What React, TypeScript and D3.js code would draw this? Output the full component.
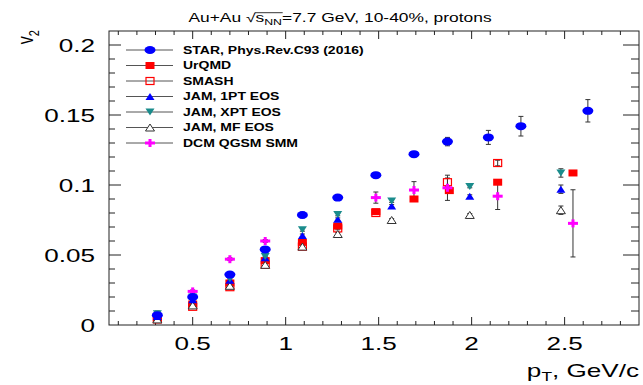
import React, { useEffect, useRef } from "react";
import * as d3 from "d3";

// pT (GeV/c) and v2
const starPt = [0.31, 0.5, 0.7, 0.89, 1.09, 1.28, 1.485, 1.69, 1.87, 2.09, 2.265, 2.625];
const starV2 = [0.007, 0.02, 0.036, 0.054, 0.0786, 0.091, 0.107, 0.122, 0.131, 0.134, 0.142, 0.153];
const starErr = [0.003, 0.002, 0.002, 0.002, 0.002, 0.002, 0.002, 0.002, 0.003, 0.005, 0.007, 0.008];

const urqmdPt = [0.31, 0.5, 0.7, 0.89, 1.09, 1.28, 1.485, 1.69, 1.88, 2.14, 2.545];
const urqmdV2 = [0.005, 0.015, 0.03, 0.046, 0.059, 0.0707, 0.081, 0.09, 0.096, 0.102, 0.1086];
const urqmdErr = [0.001, 0.001, 0.001, 0.001, 0.001, 0.001, 0.001, 0.001, 0.001, 0.001, 0.001];

const smashPt = [0.31, 0.5, 0.7, 0.89, 1.09, 1.28, 1.485, 1.87, 2.14];
const smashV2 = [0.004, 0.013, 0.027, 0.043, 0.056, 0.069, 0.08, 0.102, 0.1157];
const smashErr = [0.001, 0.001, 0.001, 0.001, 0.001, 0.001, 0.001, 0.003, 0.002];

const jamPt = [0.31, 0.5, 0.7, 0.89, 1.09, 1.28, 1.57, 1.99, 2.48];
const jam1ptV2 = [0.006, 0.018, 0.032, 0.048, 0.064, 0.0755, 0.085, 0.092, 0.097];
const jamXptV2 = [0.008, 0.02, 0.033, 0.049, 0.068, 0.079, 0.0886, 0.099, 0.1086];
const jamMfV2 = [0.004, 0.014, 0.028, 0.043, 0.056, 0.065, 0.075, 0.0786, 0.082];
const jamErr = [0.001, 0.001, 0.001, 0.001, 0.001, 0.001, 0.001, 0.001, 0.003];

const dcmPt = [0.5, 0.7, 0.89, 1.485, 1.69, 1.87, 2.14, 2.545];
const dcmV2 = [0.024, 0.047, 0.06, 0.091, 0.0964, 0.098, 0.092, 0.0726];
const dcmErr = [0.001, 0.001, 0.001, 0.004, 0.006, 0.009, 0.0095, 0.024];

const legendLabels = [
  "STAR, Phys.Rev.C93 (2016)",
  "UrQMD",
  "SMASH",
  "JAM, 1PT EOS",
  "JAM, XPT EOS",
  "JAM, MF EOS",
  "DCM QGSM SMM",
];
const legendMarkers = ["circle", "square", "openSquare", "triUp", "triDown", "openTri", "plus"];

const xTickLabels = ["0.5", "1", "1.5", "2", "2.5"];
const yTickLabels = ["0", "0.05", "0.1", "0.15", "0.2"];

const BLUE = "#0000ff";
const RED = "#ff0000";
const TEAL = "#1a8c8c";
const GREY = "#333333";
const MAGENTA = "#ff00ff";
const markerColor = {
  circle: BLUE,
  square: RED,
  openSquare: RED,
  triUp: BLUE,
  triDown: TEAL,
  openTri: GREY,
  plus: MAGENTA,
};

const FONT = "'Liberation Sans', Arial, Helvetica, sans-serif";
const SX = 1.45; // the whole picture is stretched horizontally

const App = () => {
  const svgRef = useRef(null);
  const width = 643;
  const height = 385;

  useEffect(() => {
    const svg = d3.select(svgRef.current);
    svg.selectAll("*").remove();

    const x = d3.scaleLinear().domain([0.05, 2.9]).range([109, 639]);
    const y = d3.scaleLinear().domain([0, 0.21]).range([325, 31]);
    const [x0, x1] = x.range();
    const [y0, y1] = y.range();

    svg.append("rect").attr("width", width).attr("height", height).attr("fill", "white");

    const drawMarker = (g, kind, cx, cy) => {
      const c = markerColor[kind];
      if (kind === "circle") {
        g.append("ellipse").attr("cx", cx).attr("cy", cy).attr("rx", 5.5).attr("ry", 4).attr("fill", c);
      } else if (kind === "square") {
        g.append("rect").attr("x", cx - 4.5).attr("y", cy - 3.5).attr("width", 9).attr("height", 7).attr("fill", c);
      } else if (kind === "openSquare") {
        g.append("rect").attr("x", cx - 4).attr("y", cy - 3.5).attr("width", 8).attr("height", 7)
          .attr("fill", "none").attr("stroke", c).attr("stroke-width", 1.2);
      } else if (kind === "triUp" || kind === "openTri") {
        const open = kind === "openTri";
        g.append("path")
          .attr("d", `M${cx - 4.5},${cy + 3.5}L${cx + 4.5},${cy + 3.5}L${cx},${cy - 3.5}Z`)
          .attr("fill", open ? "white" : c)
          .attr("stroke", open ? c : "none")
          .attr("stroke-width", 1);
      } else if (kind === "triDown") {
        g.append("path")
          .attr("d", `M${cx - 4.5},${cy - 3.5}L${cx + 4.5},${cy - 3.5}L${cx},${cy + 3.5}Z`)
          .attr("fill", c);
      } else if (kind === "plus") {
        g.append("rect").attr("x", cx - 5).attr("y", cy - 1.5).attr("width", 10).attr("height", 3).attr("fill", c);
        g.append("rect").attr("x", cx - 1.5).attr("y", cy - 4).attr("width", 3).attr("height", 8).attr("fill", c);
      }
    };

    const addText = (g, tx, ty, str, size, opts = {}) =>
      g.append("text")
        .attr("transform", `translate(${tx},${ty}) scale(${opts.sx ?? SX},1)`)
        .attr("text-anchor", opts.anchor ?? "start")
        .attr("font-family", FONT)
        .attr("font-size", size)
        .attr("font-weight", opts.weight ?? "normal")
        .attr("fill", "black")
        .text(str);

    // frame and ticks
    const axes = svg.append("g").attr("stroke", "#222").attr("stroke-width", 1);
    axes.append("rect").attr("x", x0).attr("y", y1).attr("width", x1 - x0).attr("height", y0 - y1).attr("fill", "none");

    const xTicks = d3.range(1, 29).map((i) => i / 10);
    xTicks.forEach((v, i) => {
      const major = (i + 1) % 5 === 0;
      const len = major ? 8 : 4;
      axes.append("line").attr("x1", x(v)).attr("x2", x(v)).attr("y1", y0).attr("y2", y0 - len);
      axes.append("line").attr("x1", x(v)).attr("x2", x(v)).attr("y1", y1).attr("y2", y1 + len);
    });
    const yTicks = d3.range(1, 21).map((i) => i / 100);
    yTicks.forEach((v, i) => {
      const major = (i + 1) % 5 === 0;
      axes.append("line").attr("x1", x0).attr("x2", x0 + (major ? 12 : 6)).attr("y1", y(v)).attr("y2", y(v));
      axes.append("line").attr("x1", x1).attr("x2", x1 - (major ? 16 : 8)).attr("y1", y(v)).attr("y2", y(v));
    });

    const labels = svg.append("g");
    xTickLabels.forEach((t) => addText(labels, x(+t), 350, t, 18, { anchor: "middle" }));
    yTickLabels.forEach((t) => addText(labels, 95, y(+t) + 6.5, t, 18, { anchor: "end" }));

    // axis titles
    const xt = addText(labels, 639, 377, "", 18, { anchor: "end" });
    xt.append("tspan").text("p");
    xt.append("tspan").attr("font-size", 12).attr("dy", 4).text("T");
    xt.append("tspan").attr("dy", -4).text(", GeV/c");

    const yt = labels.append("text")
      .attr("transform", "translate(33,30) rotate(-90) scale(1,1.4)")
      .attr("text-anchor", "end")
      .attr("font-family", FONT)
      .attr("font-size", 16);
    yt.append("tspan").text("v");
    yt.append("tspan").attr("font-size", 11).attr("dy", 4).text("2");

    // title
    const tg = labels.append("g").attr("transform", `translate(340,22) scale(${SX},1)`);
    const tt = tg.append("text").attr("text-anchor", "middle").attr("font-family", FONT).attr("font-size", 12);
    tt.append("tspan").text("Au+Au  \u221A");
    const sSpan = tt.append("tspan").text("s");
    const nnSpan = tt.append("tspan").attr("font-size", 8.5).attr("dy", 2.5).text("NN");
    tt.append("tspan").attr("dy", -2.5).text("=7.7 GeV, 10-40%, protons");
    const b1 = sSpan.node().getBBox();
    const b2 = nnSpan.node().getBBox();
    tg.append("line")
      .attr("x1", b1.x - 0.5).attr("x2", b2.x + b2.width + 0.5)
      .attr("y1", b1.y + 2).attr("y2", b1.y + 2)
      .attr("stroke", "black").attr("stroke-width", 0.8);

    // legend
    const leg = svg.append("g");
    legendLabels.forEach((lab, i) => {
      const ly = 50 + i * 15.5;
      leg.append("line").attr("x1", 126).attr("x2", 173).attr("y1", ly).attr("y2", ly)
        .attr("stroke", "#555").attr("stroke-width", 1);
      drawMarker(leg, legendMarkers[i], 150, ly);
      addText(leg, 183, ly + 3.6, lab, 10, { weight: "bold", sx: 1.4 });
    });

    // data
    const series = [
      { kind: "openSquare", pt: smashPt, v: smashV2, e: smashErr },
      { kind: "square", pt: urqmdPt, v: urqmdV2, e: urqmdErr },
      { kind: "openTri", pt: jamPt, v: jamMfV2, e: jamErr },
      { kind: "triUp", pt: jamPt, v: jam1ptV2, e: jamErr },
      { kind: "triDown", pt: jamPt, v: jamXptV2, e: jamErr },
      { kind: "plus", pt: dcmPt, v: dcmV2, e: dcmErr },
      { kind: "circle", pt: starPt, v: starV2, e: starErr },
    ];

    const errG = svg.append("g").attr("stroke", "#333").attr("stroke-width", 1);
    series.forEach((s) => {
      s.pt.forEach((p, i) => {
        const cx = x(p);
        const top = y(s.v[i] + s.e[i]);
        const bot = y(s.v[i] - s.e[i]);
        errG.append("line").attr("x1", cx).attr("x2", cx).attr("y1", top).attr("y2", bot);
        errG.append("line").attr("x1", cx - 2.5).attr("x2", cx + 2.5).attr("y1", top).attr("y2", top);
        errG.append("line").attr("x1", cx - 2.5).attr("x2", cx + 2.5).attr("y1", bot).attr("y2", bot);
      });
    });

    const markG = svg.append("g");
    series.forEach((s) => {
      s.pt.forEach((p, i) => drawMarker(markG, s.kind, x(p), y(s.v[i])));
    });
  }, []);

  return (
    <svg
      ref={svgRef}
      width={width}
      height={height}
      style={{ position: "absolute", left: 0, top: 0 }}
    ></svg>
  );
};

export default App;
